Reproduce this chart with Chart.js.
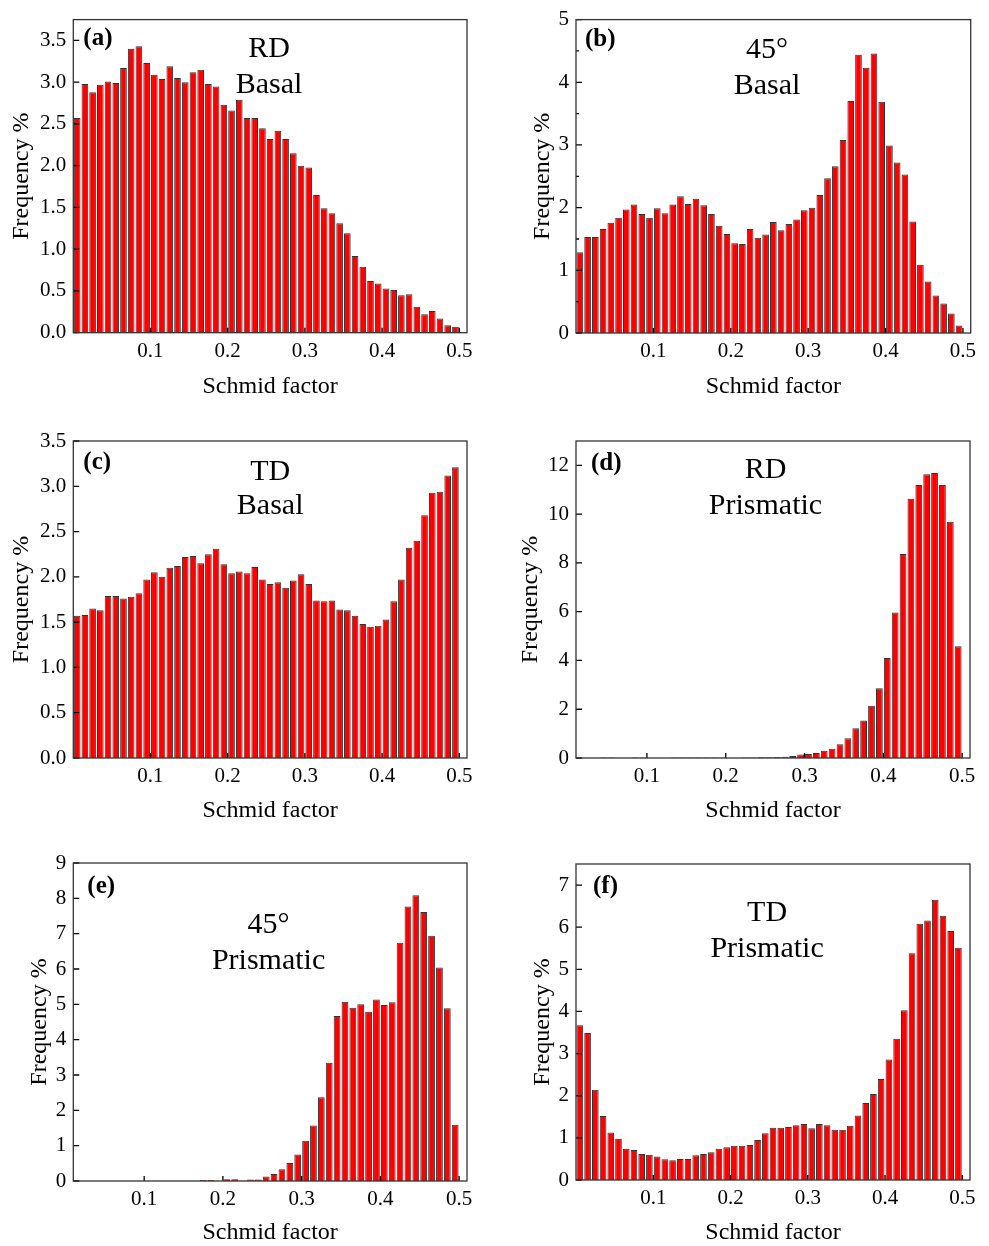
<!DOCTYPE html>
<html>
<head>
<meta charset="utf-8">
<script src="https://cdn.jsdelivr.net/npm/chart.js@4.4.0/dist/chart.umd.min.js"></script>
<style>
  body { margin: 0; background: #fff; }
  #wrap { position: relative; width: 989px; height: 1246px; }
  #wrap canvas { position: absolute; }
</style>
</head>
<body>
<div id="wrap">
  <canvas id="chartA" width="490" height="415" style="left:0px;top:0px"></canvas>
  <canvas id="chartB" width="494" height="415" style="left:495px;top:0px"></canvas>
  <canvas id="chartC" width="490" height="415" style="left:0px;top:420px"></canvas>
  <canvas id="chartD" width="494" height="415" style="left:495px;top:420px"></canvas>
  <canvas id="chartE" width="490" height="406" style="left:0px;top:840px"></canvas>
  <canvas id="chartF" width="494" height="406" style="left:495px;top:840px"></canvas>
</div>
<script>
// tam cac bin Schmid factor (do rong bin 0.01)
var binCenters = [0.005, 0.015, 0.025, 0.035, 0.045, 0.055, 0.065, 0.075, 0.085, 0.095,
  0.105, 0.115, 0.125, 0.135, 0.145, 0.155, 0.165, 0.175, 0.185, 0.195,
  0.205, 0.215, 0.225, 0.235, 0.245, 0.255, 0.265, 0.275, 0.285, 0.295,
  0.305, 0.315, 0.325, 0.335, 0.345, 0.355, 0.365, 0.375, 0.385, 0.395,
  0.405, 0.415, 0.425, 0.435, 0.445, 0.455, 0.465, 0.475, 0.485, 0.495];

// tan suat (%) cho tung bieu do
var rdBasal = [2.57, 2.98, 2.88, 2.97, 3.01, 2.99, 3.17, 3.40, 3.43, 3.23,
  3.09, 3.04, 3.19, 3.05, 3.00, 3.12, 3.15, 2.98, 2.95, 2.73,
  2.66, 2.79, 2.57, 2.57, 2.45, 2.32, 2.42, 2.32, 2.15, 2.00,
  1.98, 1.65, 1.49, 1.43, 1.31, 1.19, 0.92, 0.79, 0.62, 0.59,
  0.53, 0.51, 0.45, 0.46, 0.31, 0.22, 0.26, 0.17, 0.09, 0.07];
var deg45Basal = [1.29, 1.53, 1.53, 1.66, 1.76, 1.84, 1.97, 2.05, 1.90, 1.84,
  1.99, 1.91, 2.05, 2.18, 2.06, 2.14, 2.04, 1.90, 1.71, 1.58,
  1.43, 1.42, 1.66, 1.52, 1.57, 1.77, 1.64, 1.74, 1.81, 1.96,
  2.00, 2.20, 2.47, 2.66, 3.08, 3.70, 4.44, 4.23, 4.46, 3.69,
  2.99, 2.72, 2.53, 1.78, 1.09, 0.82, 0.60, 0.47, 0.31, 0.12];
var tdBasal = [1.57, 1.58, 1.65, 1.63, 1.79, 1.79, 1.76, 1.78, 1.82, 1.97,
  2.05, 2.00, 2.10, 2.12, 2.22, 2.23, 2.15, 2.25, 2.31, 2.14,
  2.04, 2.06, 2.04, 2.11, 1.97, 1.92, 1.94, 1.88, 1.96, 2.03,
  1.92, 1.74, 1.73, 1.74, 1.64, 1.63, 1.57, 1.48, 1.45, 1.46,
  1.53, 1.73, 1.97, 2.32, 2.40, 2.68, 2.93, 2.94, 3.12, 3.21];
var rdPrismatic = [0, 0, 0, 0, 0.02, 0.02, 0, 0, 0.02, 0.02,
  0, 0, 0, 0.02, 0.02, 0.02, 0.02, 0.02, 0.02, 0.02,
  0, 0, 0.02, 0.02, 0.03, 0.03, 0.04, 0.05, 0.08, 0.14,
  0.16, 0.20, 0.30, 0.38, 0.56, 0.81, 1.22, 1.54, 2.14, 2.86,
  4.10, 5.97, 8.37, 10.63, 11.20, 11.64, 11.69, 11.20, 9.69, 4.58];
var deg45Prismatic = [0, 0, 0, 0, 0, 0, 0, 0, 0, 0,
  0, 0.01, 0.01, 0.01, 0.01, 0.01, 0.01, 0.03, 0.03, 0.01,
  0.05, 0.05, 0.01, 0.04, 0.04, 0.13, 0.20, 0.33, 0.51, 0.75,
  1.14, 1.57, 2.37, 3.35, 4.67, 5.07, 4.90, 5.00, 4.79, 5.14,
  4.98, 5.06, 6.74, 7.77, 8.09, 7.61, 6.94, 6.04, 4.89, 1.59];
var tdPrismatic = [3.67, 3.49, 2.14, 1.52, 1.13, 0.98, 0.74, 0.71, 0.62, 0.60,
  0.56, 0.49, 0.47, 0.50, 0.50, 0.59, 0.62, 0.66, 0.74, 0.78,
  0.81, 0.81, 0.83, 0.95, 1.11, 1.24, 1.24, 1.26, 1.30, 1.33,
  1.23, 1.33, 1.30, 1.19, 1.19, 1.29, 1.53, 1.83, 2.04, 2.40,
  2.86, 3.35, 4.03, 5.38, 6.08, 6.16, 6.65, 6.27, 5.91, 5.51];

// vach chia truc
var xTickValues = [0.1, 0.2, 0.3, 0.4, 0.5];
var basalTicks = [0, 0.5, 1, 1.5, 2, 2.5, 3, 3.5];
var ticks0to5 = [0, 1, 2, 3, 4, 5];
var ticks0to5Minor = [0.5, 1.5, 2.5, 3.5, 4.5];
var ticks0to12 = [0, 2, 4, 6, 8, 10, 12];
var ticks0to9 = [0, 1, 2, 3, 4, 5, 6, 7, 8, 9];
var ticks0to7 = [0, 1, 2, 3, 4, 5, 6, 7];

var FONT = '"Liberation Serif", "Times New Roman", serif';

// ve khung, vach chia huong vao trong va chu thich
var panelPlugin = {
  id: 'panelPlugin',
  afterDatasetsDraw: function (chart) {
    var ctx = chart.ctx;
    var a = chart.chartArea;
    var cfg = chart.options.plugins.panelPlugin;
    var xs = chart.scales.x;
    var ys = chart.scales.y;
    ctx.save();
    ctx.strokeStyle = '#000';
    ctx.lineWidth = 1.3;
    ctx.beginPath();
    xs.ticks.forEach(function (t) {
      var px = xs.getPixelForValue(t.value);
      ctx.moveTo(px, a.bottom);
      ctx.lineTo(px, a.bottom - 5);
    });
    ys.ticks.forEach(function (t) {
      var py = ys.getPixelForValue(t.value);
      ctx.moveTo(a.left, py);
      ctx.lineTo(a.left + 6, py);
    });
    (cfg.yMinor || []).forEach(function (v) {
      var py = ys.getPixelForValue(v);
      ctx.moveTo(a.left, py);
      ctx.lineTo(a.left + 3, py);
    });
    ctx.stroke();

    ctx.strokeStyle = '#333';
    ctx.lineWidth = 1.3;
    ctx.strokeRect(a.left, a.top, a.right - a.left, a.bottom - a.top);

    ctx.fillStyle = '#000';
    ctx.textBaseline = 'alphabetic';
    ctx.textAlign = 'left';
    ctx.font = 'bold 25px ' + FONT;
    ctx.fillText(cfg.letter, a.left + cfg.letterX, a.top + cfg.letterY);

    ctx.textAlign = 'center';
    ctx.font = '30px ' + FONT;
    var cx = a.left + cfg.textX * (a.right - a.left);
    for (var i = 0; i < cfg.lines.length; i++) {
      ctx.fillText(cfg.lines[i], cx, a.top + cfg.lineY[i]);
    }
    ctx.restore();
  }
};

function makePanel(id, box, area, values, yMax, yTicks, decimals, xMin, note, titlePad) {
  var ctx = document.getElementById(id).getContext('2d');
  var points = [];
  for (var i = 0; i < binCenters.length; i++) {
    points.push({ x: binCenters[i], y: values[i] });
  }
  return new Chart(ctx, {
    type: 'bar',
    data: {
      datasets: [{
        data: points,
        backgroundColor: '#ff0000',
        borderColor: '#333333',
        borderWidth: 1,
        barPercentage: 0.86,
        categoryPercentage: 1
      }]
    },
    plugins: [panelPlugin],
    options: {
      responsive: false,
      animation: false,
      devicePixelRatio: 1,
      layout: {
        padding: { left: 0, top: area.t - box.y, right: box.x + box.w - area.r, bottom: 0 }
      },
      plugins: {
        legend: { display: false },
        tooltip: { enabled: false },
        panelPlugin: note
      },
      scales: {
        x: {
          type: 'linear',
          min: xMin,
          max: 0.51,
          bounds: 'data',
          offset: false,
          afterFit: function (s) { s.height = box.y + box.h - area.b; },
          afterBuildTicks: function (s) {
            s.ticks = xTickValues.map(function (v) { return { value: v }; });
          },
          grid: { display: false, drawTicks: false, offset: false },
          border: { display: false },
          ticks: {
            padding: 6,
            color: '#000',
            maxRotation: 0,
            autoSkip: false,
            font: { family: FONT, size: 21 },
            callback: function (v) { return v.toFixed(1); }
          },
          title: {
            display: true,
            text: 'Schmid factor',
            color: '#000',
            font: { family: FONT, size: 24, lineHeight: 1 },
            padding: { top: 0, bottom: titlePad.x }
          }
        },
        y: {
          type: 'linear',
          min: 0,
          max: yMax,
          bounds: 'data',
          afterFit: function (s) { s.width = area.l - box.x; },
          afterBuildTicks: function (s) {
            s.ticks = yTicks.map(function (v) { return { value: v }; });
          },
          grid: { display: false, drawTicks: false },
          border: { display: false },
          ticks: {
            padding: 7,
            color: '#000',
            font: { family: FONT, size: 21 },
            callback: function (v) { return v.toFixed(decimals); }
          },
          title: {
            display: true,
            text: 'Frequency %',
            color: '#000',
            font: { family: FONT, size: 24, lineHeight: 1 },
            padding: { top: titlePad.y, bottom: 0 }
          }
        }
      }
    }
  });
}

var boxA = { x: 0, y: 0, w: 490, h: 415 };
var boxB = { x: 495, y: 0, w: 494, h: 415 };
var boxC = { x: 0, y: 420, w: 490, h: 415 };
var boxD = { x: 495, y: 420, w: 494, h: 415 };
var boxE = { x: 0, y: 840, w: 490, h: 406 };
var boxF = { x: 495, y: 840, w: 494, h: 406 };

makePanel('chartA', boxA, { l: 73.3, t: 15.5, r: 467, b: 332.7 }, rdBasal, 3.75, basalTicks, 1, 0,
  { letter: '(a)', letterX: 10, letterY: 25, textX: 0.497, lines: ['RD', 'Basal'], lineY: [37.8, 73.8] },
  { x: 16, y: 10 });
makePanel('chartB', boxB, { l: 576, t: 15, r: 970.7, b: 333 }, deg45Basal, 5, ticks0to5, 0, 0,
  { letter: '(b)', letterX: 9, letterY: 26.7, textX: 0.484, lines: ['45°', 'Basal'], lineY: [38.3, 74.3], yMinor: ticks0to5Minor },
  { x: 16, y: 36 });
makePanel('chartC', boxC, { l: 73.3, t: 441, r: 467, b: 758 }, tdBasal, 3.5, basalTicks, 1, 0,
  { letter: '(c)', letterX: 10, letterY: 28, textX: 0.5, lines: ['TD', 'Basal'], lineY: [39, 73.3] },
  { x: 12, y: 10 });
makePanel('chartD', boxD, { l: 576, t: 441, r: 970, b: 758 }, rdPrismatic, 13, ticks0to12, 0, 0.01,
  { letter: '(d)', letterX: 15, letterY: 29, textX: 0.481, lines: ['RD', 'Prismatic'], lineY: [37.3, 73] },
  { x: 12, y: 24 });
makePanel('chartE', boxE, { l: 73.3, t: 863, r: 467, b: 1181 }, deg45Prismatic, 9, ticks0to9, 0, 0.01,
  { letter: '(e)', letterX: 14, letterY: 30, textX: 0.496, lines: ['45°', 'Prismatic'], lineY: [70.3, 106.3] },
  { x: 1, y: 28 });
makePanel('chartF', boxF, { l: 576, t: 864, r: 970, b: 1180 }, tdPrismatic, 7.5, ticks0to7, 0, 0,
  { letter: '(f)', letterX: 17, letterY: 29, textX: 0.485, lines: ['TD', 'Prismatic'], lineY: [57, 92.7] },
  { x: 1, y: 36 });
</script>
</body>
</html>
